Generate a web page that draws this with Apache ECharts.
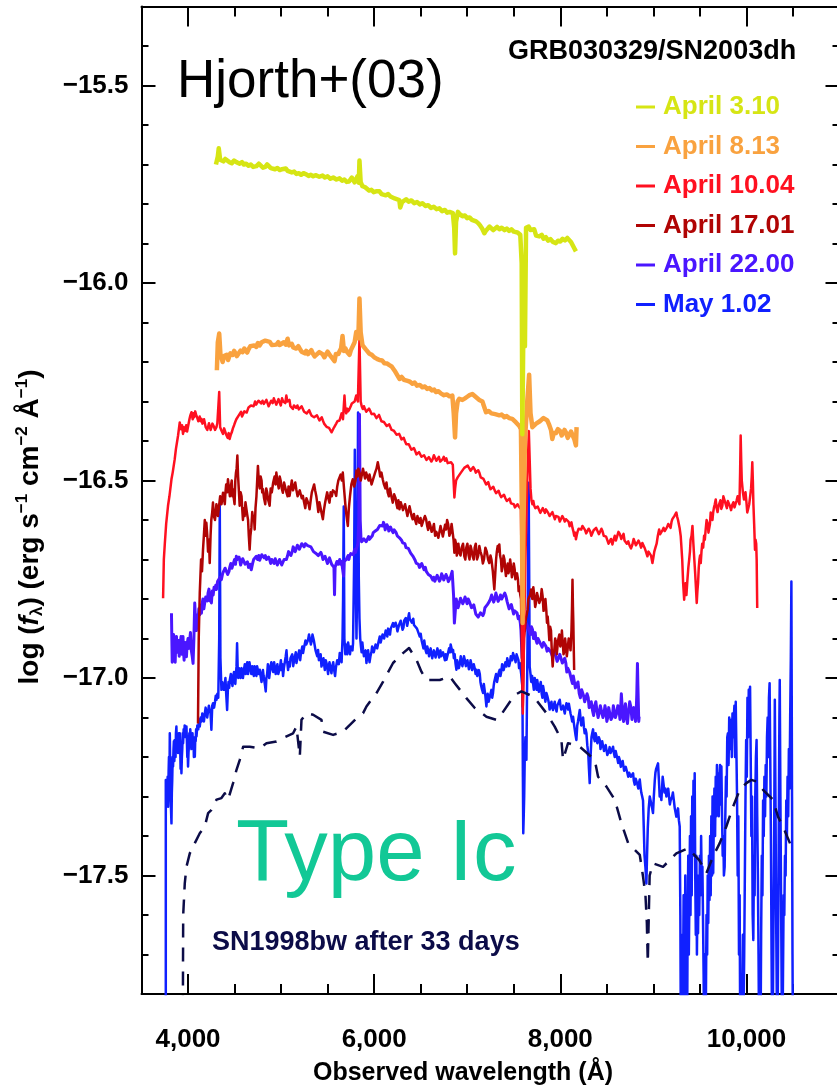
<!DOCTYPE html>
<html>
<head>
<meta charset="utf-8">
<script src="https://cdn.jsdelivr.net/npm/echarts@6/dist/echarts.min.js"></script>
<style>
  html, body { margin: 0; padding: 0; background: #ffffff; }
  #chart { width: 837px; height: 1088px; }
</style>
</head>
<body>
<div id="chart"></div>
<script>
// Spectra of GRB030329 / SN2003dh, log flux density against observed wavelength.

const FONT = '"Liberation Sans", Arial, Helvetica, sans-serif';

const xRange = [3500, 11000];
const yRange = [-17.8, -15.3];

const xMajorTicks = [4000, 6000, 8000, 10000];
const xMinorTicks = [4500, 5000, 5500, 6500, 7000, 7500, 8500, 9000, 9500, 10500];
const yMajorTicks = [-17.5, -17.0, -16.5, -16.0, -15.5];
const yMinorTicks = [-17.7, -17.6, -17.4, -17.3, -17.2, -17.1, -16.9, -16.8, -16.7, -16.6,
  -16.4, -16.3, -16.2, -16.1, -15.9, -15.8, -15.7, -15.6, -15.4];

const seriesNames = ['April 3.10', 'April 8.13', 'April 10.04', 'April 17.01', 'April 22.00', 'May 1.02'];
const seriesColors = ['#d6e514', '#f9a23f', '#ff1020', '#b00404', '#4a16ff', '#1020ff'];
const templateName = 'SN1998bw after 33 days';

// [wavelength (Å), log f_lambda]
const april03 = [[4300,-15.700],[4310,-15.690],[4320,-15.680],[4330,-15.659],[4345,-15.688],[4362,-15.683],[4380,-15.692],[4400,-15.686],[4420,-15.689],[4445,-15.694],[4470,-15.697],[4495,-15.690],[4520,-15.694],[4555,-15.698],[4580,-15.694],[4600,-15.700],[4625,-15.698],[4650,-15.703],[4675,-15.700],[4700,-15.706],[4735,-15.704],[4760,-15.698],[4780,-15.702],[4805,-15.708],[4830,-15.706],[4850,-15.700],[4870,-15.703],[4890,-15.709],[4910,-15.706],[4935,-15.712],[4960,-15.709],[4985,-15.714],[5010,-15.712],[5030,-15.707],[5050,-15.710],[5070,-15.716],[5090,-15.715],[5115,-15.720],[5140,-15.718],[5165,-15.724],[5190,-15.722],[5215,-15.726],[5240,-15.722],[5270,-15.725],[5295,-15.729],[5320,-15.726],[5345,-15.730],[5370,-15.727],[5410,-15.731],[5445,-15.728],[5470,-15.733],[5500,-15.730],[5530,-15.736],[5560,-15.733],[5595,-15.738],[5628,-15.735],[5655,-15.741],[5680,-15.738],[5705,-15.744],[5730,-15.743],[5760,-15.733],[5790,-15.745],[5820,-15.730],[5835,-15.746],[5842,-15.690],[5855,-15.745],[5874,-15.755],[5900,-15.757],[5920,-15.760],[5945,-15.766],[5970,-15.764],[5995,-15.770],[6020,-15.768],[6057,-15.768],[6080,-15.775],[6100,-15.772],[6125,-15.778],[6150,-15.775],[6175,-15.781],[6196,-15.778],[6220,-15.786],[6240,-15.785],[6270,-15.790],[6280,-15.809],[6300,-15.795],[6320,-15.790],[6343,-15.788],[6370,-15.794],[6400,-15.791],[6430,-15.798],[6460,-15.795],[6490,-15.801],[6518,-15.798],[6550,-15.805],[6580,-15.803],[6610,-15.810],[6640,-15.807],[6670,-15.813],[6701,-15.811],[6730,-15.818],[6760,-15.815],[6785,-15.822],[6810,-15.820],[6845,-15.823],[6860,-15.860],[6869,-15.925],[6880,-15.845],[6900,-15.820],[6925,-15.827],[6948,-15.831],[6975,-15.829],[7000,-15.836],[7025,-15.834],[7050,-15.840],[7070,-15.838],[7095,-15.844],[7120,-15.849],[7140,-15.855],[7160,-15.862],[7184,-15.874],[7200,-15.868],[7220,-15.866],[7240,-15.857],[7260,-15.860],[7280,-15.866],[7300,-15.864],[7320,-15.858],[7345,-15.864],[7370,-15.860],[7400,-15.866],[7425,-15.862],[7450,-15.868],[7475,-15.864],[7500,-15.870],[7520,-15.866],[7540,-15.872],[7570,-15.878],[7585,-15.950],[7592,-16.383],[7602,-16.380],[7610,-15.950],[7620,-16.160],[7632,-15.860],[7660,-15.857],[7680,-15.866],[7700,-15.870],[7720,-15.864],[7740,-15.880],[7760,-15.876],[7774,-15.882],[7800,-15.878],[7820,-15.888],[7845,-15.884],[7870,-15.893],[7895,-15.889],[7920,-15.896],[7953,-15.899],[7975,-15.893],[8000,-15.895],[8025,-15.888],[8050,-15.892],[8075,-15.886],[8096,-15.890],[8115,-15.896],[8130,-15.900],[8150,-15.912],[8168,-15.920]];

const april08 = [[4310,-16.221],[4320,-16.150],[4335,-16.128],[4348,-16.180],[4360,-16.190],[4372,-16.200],[4386,-16.185],[4400,-16.190],[4415,-16.182],[4430,-16.195],[4455,-16.178],[4480,-16.182],[4495,-16.172],[4510,-16.176],[4525,-16.185],[4540,-16.180],[4565,-16.171],[4587,-16.175],[4605,-16.166],[4620,-16.170],[4635,-16.176],[4650,-16.168],[4670,-16.160],[4690,-16.165],[4712,-16.158],[4734,-16.162],[4750,-16.152],[4770,-16.158],[4790,-16.150],[4810,-16.152],[4830,-16.146],[4850,-16.150],[4877,-16.149],[4900,-16.157],[4920,-16.152],[4950,-16.156],[4970,-16.150],[4984,-16.157],[5005,-16.162],[5030,-16.150],[5050,-16.156],[5070,-16.141],[5085,-16.158],[5100,-16.160],[5115,-16.154],[5130,-16.163],[5150,-16.158],[5163,-16.166],[5185,-16.160],[5200,-16.166],[5220,-16.174],[5240,-16.170],[5255,-16.178],[5270,-16.172],[5290,-16.180],[5306,-16.175],[5325,-16.170],[5340,-16.178],[5360,-16.186],[5380,-16.182],[5410,-16.175],[5445,-16.180],[5465,-16.188],[5480,-16.183],[5500,-16.174],[5520,-16.178],[5535,-16.186],[5550,-16.182],[5574,-16.198],[5588,-16.180],[5600,-16.175],[5615,-16.180],[5630,-16.172],[5645,-16.165],[5660,-16.134],[5675,-16.172],[5690,-16.165],[5710,-16.175],[5735,-16.182],[5750,-16.170],[5770,-16.160],[5790,-16.150],[5807,-16.124],[5830,-16.140],[5842,-16.039],[5855,-16.125],[5874,-16.157],[5890,-16.162],[5910,-16.168],[5930,-16.172],[5949,-16.179],[5975,-16.182],[6000,-16.188],[6030,-16.192],[6057,-16.195],[6085,-16.196],[6110,-16.203],[6140,-16.204],[6164,-16.208],[6190,-16.212],[6220,-16.222],[6245,-16.232],[6272,-16.243],[6295,-16.238],[6320,-16.245],[6340,-16.240],[6360,-16.248],[6385,-16.250],[6411,-16.255],[6435,-16.252],[6460,-16.260],[6490,-16.258],[6518,-16.264],[6545,-16.262],[6570,-16.268],[6595,-16.266],[6620,-16.272],[6645,-16.270],[6665,-16.276],[6690,-16.274],[6720,-16.280],[6750,-16.284],[6780,-16.282],[6810,-16.287],[6840,-16.285],[6855,-16.330],[6869,-16.391],[6880,-16.330],[6897,-16.300],[6915,-16.293],[6930,-16.288],[6948,-16.296],[6975,-16.292],[7000,-16.288],[7025,-16.284],[7055,-16.281],[7080,-16.286],[7100,-16.290],[7130,-16.296],[7163,-16.300],[7180,-16.312],[7202,-16.327],[7230,-16.324],[7260,-16.330],[7280,-16.326],[7300,-16.332],[7320,-16.330],[7345,-16.335],[7370,-16.333],[7400,-16.340],[7425,-16.337],[7450,-16.342],[7470,-16.340],[7484,-16.344],[7505,-16.348],[7524,-16.353],[7540,-16.350],[7560,-16.362],[7577,-16.370],[7588,-16.600],[7595,-16.861],[7605,-16.600],[7620,-16.400],[7645,-16.300],[7665,-16.232],[7680,-16.330],[7700,-16.365],[7721,-16.365],[7740,-16.356],[7760,-16.360],[7780,-16.350],[7800,-16.352],[7820,-16.342],[7839,-16.345],[7860,-16.348],[7882,-16.360],[7900,-16.372],[7914,-16.395],[7930,-16.380],[7953,-16.380],[7975,-16.370],[8000,-16.375],[8015,-16.386],[8030,-16.382],[8045,-16.372],[8060,-16.378],[8080,-16.392],[8100,-16.390],[8115,-16.376],[8130,-16.380],[8150,-16.395],[8168,-16.411],[8175,-16.365]];

const april10 = [[3732,-16.798],[3740,-16.700],[3750,-16.662],[3765,-16.610],[3785,-16.564],[3800,-16.540],[3822,-16.497],[3835,-16.480],[3857,-16.446],[3870,-16.420],[3893,-16.386],[3911,-16.353],[3925,-16.370],[3936,-16.360],[3946,-16.382],[3955,-16.365],[3965,-16.375],[3980,-16.360],[3990,-16.376],[4000,-16.378],[4015,-16.345],[4025,-16.335],[4037,-16.327],[4050,-16.345],[4058,-16.330],[4065,-16.340],[4077,-16.325],[4090,-16.336],[4100,-16.342],[4110,-16.350],[4125,-16.338],[4135,-16.350],[4144,-16.344],[4155,-16.356],[4165,-16.358],[4172,-16.345],[4180,-16.350],[4190,-16.365],[4197,-16.360],[4207,-16.372],[4215,-16.370],[4225,-16.355],[4235,-16.358],[4243,-16.372],[4251,-16.370],[4262,-16.356],[4275,-16.362],[4290,-16.372],[4305,-16.365],[4315,-16.355],[4325,-16.360],[4335,-16.276],[4345,-16.365],[4360,-16.374],[4376,-16.382],[4388,-16.368],[4400,-16.370],[4412,-16.385],[4425,-16.392],[4437,-16.380],[4447,-16.395],[4458,-16.385],[4470,-16.378],[4482,-16.368],[4495,-16.360],[4507,-16.352],[4519,-16.345],[4532,-16.340],[4545,-16.335],[4557,-16.330],[4570,-16.326],[4580,-16.338],[4590,-16.336],[4605,-16.325],[4620,-16.320],[4630,-16.328],[4640,-16.330],[4650,-16.315],[4662,-16.319],[4676,-16.310],[4690,-16.305],[4705,-16.312],[4720,-16.300],[4732,-16.308],[4745,-16.310],[4757,-16.298],[4769,-16.293],[4785,-16.305],[4800,-16.298],[4815,-16.306],[4830,-16.310],[4842,-16.296],[4855,-16.300],[4866,-16.312],[4877,-16.310],[4893,-16.298],[4910,-16.304],[4922,-16.292],[4935,-16.295],[4948,-16.308],[4960,-16.306],[4972,-16.294],[4984,-16.302],[4997,-16.310],[5010,-16.292],[5022,-16.300],[5035,-16.296],[5045,-16.304],[5056,-16.285],[5068,-16.300],[5080,-16.305],[5090,-16.296],[5100,-16.312],[5114,-16.308],[5127,-16.319],[5138,-16.310],[5150,-16.305],[5162,-16.316],[5175,-16.310],[5190,-16.320],[5205,-16.318],[5220,-16.312],[5234,-16.319],[5247,-16.326],[5260,-16.322],[5275,-16.330],[5290,-16.327],[5302,-16.322],[5315,-16.330],[5328,-16.336],[5341,-16.332],[5355,-16.340],[5370,-16.338],[5385,-16.335],[5400,-16.340],[5412,-16.348],[5425,-16.346],[5437,-16.340],[5449,-16.348],[5462,-16.356],[5475,-16.355],[5488,-16.364],[5500,-16.362],[5515,-16.367],[5530,-16.370],[5543,-16.378],[5556,-16.374],[5568,-16.366],[5580,-16.362],[5592,-16.356],[5605,-16.350],[5617,-16.355],[5628,-16.348],[5640,-16.338],[5650,-16.330],[5665,-16.345],[5681,-16.285],[5690,-16.320],[5700,-16.330],[5710,-16.318],[5720,-16.325],[5735,-16.319],[5748,-16.312],[5760,-16.305],[5775,-16.310],[5790,-16.300],[5807,-16.285],[5825,-16.300],[5842,-16.141],[5855,-16.300],[5866,-16.312],[5878,-16.319],[5890,-16.312],[5900,-16.318],[5915,-16.326],[5930,-16.322],[5945,-16.318],[5960,-16.325],[5972,-16.332],[5985,-16.327],[5998,-16.331],[6010,-16.335],[6025,-16.342],[6040,-16.338],[6052,-16.334],[6065,-16.342],[6078,-16.350],[6092,-16.348],[6105,-16.352],[6120,-16.355],[6135,-16.362],[6150,-16.360],[6162,-16.358],[6175,-16.365],[6188,-16.372],[6200,-16.370],[6212,-16.374],[6225,-16.376],[6240,-16.384],[6255,-16.383],[6268,-16.382],[6280,-16.388],[6294,-16.396],[6307,-16.395],[6318,-16.392],[6330,-16.400],[6345,-16.408],[6360,-16.405],[6372,-16.408],[6385,-16.412],[6400,-16.422],[6414,-16.420],[6427,-16.418],[6440,-16.425],[6455,-16.434],[6470,-16.430],[6482,-16.428],[6495,-16.433],[6508,-16.440],[6522,-16.437],[6536,-16.436],[6550,-16.440],[6562,-16.448],[6575,-16.444],[6588,-16.441],[6600,-16.446],[6615,-16.452],[6629,-16.446],[6642,-16.436],[6655,-16.440],[6668,-16.450],[6680,-16.445],[6695,-16.440],[6710,-16.452],[6722,-16.456],[6736,-16.446],[6748,-16.440],[6760,-16.450],[6775,-16.444],[6790,-16.456],[6808,-16.460],[6826,-16.454],[6845,-16.460],[6862,-16.543],[6870,-16.520],[6880,-16.500],[6897,-16.492],[6915,-16.488],[6932,-16.480],[6950,-16.475],[6968,-16.468],[6985,-16.470],[7005,-16.462],[7023,-16.467],[7036,-16.475],[7050,-16.470],[7065,-16.466],[7080,-16.472],[7092,-16.480],[7105,-16.478],[7118,-16.474],[7130,-16.480],[7145,-16.492],[7160,-16.490],[7175,-16.496],[7190,-16.500],[7203,-16.510],[7215,-16.506],[7226,-16.504],[7237,-16.514],[7250,-16.522],[7265,-16.520],[7280,-16.516],[7295,-16.525],[7310,-16.532],[7325,-16.530],[7338,-16.526],[7350,-16.535],[7365,-16.542],[7380,-16.539],[7395,-16.536],[7410,-16.545],[7425,-16.552],[7440,-16.550],[7455,-16.546],[7470,-16.558],[7485,-16.554],[7500,-16.560],[7512,-16.568],[7524,-16.564],[7540,-16.560],[7555,-16.566],[7566,-16.562],[7577,-16.573],[7590,-16.850],[7597,-17.090],[7610,-16.900],[7625,-16.700],[7645,-16.500],[7662,-16.375],[7680,-16.520],[7690,-16.550],[7700,-16.560],[7710,-16.552],[7720,-16.564],[7732,-16.570],[7745,-16.575],[7757,-16.566],[7770,-16.570],[7785,-16.582],[7800,-16.578],[7812,-16.570],[7825,-16.574],[7835,-16.582],[7846,-16.573],[7858,-16.578],[7870,-16.582],[7885,-16.590],[7900,-16.586],[7915,-16.580],[7930,-16.590],[7942,-16.598],[7953,-16.590],[7967,-16.585],[7980,-16.592],[7995,-16.604],[8010,-16.600],[8022,-16.590],[8035,-16.596],[8048,-16.604],[8060,-16.598],[8075,-16.596],[8090,-16.605],[8100,-16.616],[8110,-16.612],[8120,-16.606],[8131,-16.620],[8140,-16.628],[8150,-16.640],[8160,-16.632],[8168,-16.649],[8177,-16.638],[8185,-16.630],[8197,-16.622],[8210,-16.618],[8225,-16.624],[8238,-16.615],[8252,-16.620],[8265,-16.625],[8278,-16.634],[8290,-16.632],[8305,-16.622],[8320,-16.628],[8333,-16.640],[8346,-16.637],[8358,-16.626],[8370,-16.630],[8385,-16.620],[8400,-16.625],[8415,-16.636],[8430,-16.632],[8442,-16.622],[8453,-16.628],[8467,-16.640],[8480,-16.635],[8492,-16.642],[8505,-16.645],[8518,-16.660],[8530,-16.655],[8545,-16.648],[8560,-16.662],[8572,-16.650],[8585,-16.640],[8597,-16.652],[8610,-16.648],[8625,-16.630],[8640,-16.636],[8655,-16.648],[8668,-16.641],[8680,-16.635],[8690,-16.652],[8702,-16.648],[8715,-16.660],[8730,-16.654],[8745,-16.665],[8760,-16.672],[8775,-16.662],[8788,-16.648],[8800,-16.650],[8812,-16.664],[8825,-16.668],[8840,-16.652],[8855,-16.660],[8868,-16.670],[8882,-16.658],[8893,-16.662],[8905,-16.670],[8920,-16.680],[8936,-16.692],[8948,-16.680],[8960,-16.675],[8975,-16.690],[8990,-16.709],[9000,-16.695],[9010,-16.680],[9022,-16.670],[9035,-16.660],[9048,-16.640],[9062,-16.624],[9073,-16.636],[9085,-16.640],[9097,-16.626],[9110,-16.620],[9122,-16.628],[9133,-16.632],[9147,-16.618],[9160,-16.610],[9172,-16.606],[9185,-16.620],[9195,-16.605],[9204,-16.598],[9215,-16.594],[9225,-16.590],[9236,-16.585],[9247,-16.581],[9256,-16.592],[9265,-16.600],[9282,-16.620],[9294,-16.641],[9310,-16.700],[9320,-16.760],[9331,-16.802],[9338,-16.770],[9345,-16.760],[9355,-16.790],[9366,-16.751],[9376,-16.720],[9385,-16.700],[9393,-16.680],[9400,-16.650],[9410,-16.640],[9420,-16.615],[9430,-16.660],[9440,-16.700],[9448,-16.730],[9455,-16.760],[9466,-16.810],[9473,-16.780],[9480,-16.760],[9488,-16.720],[9495,-16.700],[9502,-16.690],[9509,-16.709],[9517,-16.680],[9525,-16.660],[9535,-16.670],[9545,-16.640],[9553,-16.650],[9562,-16.624],[9572,-16.600],[9585,-16.610],[9592,-16.632],[9600,-16.630],[9608,-16.610],[9616,-16.581],[9625,-16.590],[9635,-16.600],[9642,-16.582],[9650,-16.570],[9660,-16.560],[9670,-16.548],[9680,-16.570],[9690,-16.580],[9700,-16.565],[9710,-16.560],[9720,-16.550],[9730,-16.572],[9741,-16.564],[9752,-16.540],[9765,-16.545],[9777,-16.560],[9790,-16.570],[9800,-16.552],[9812,-16.548],[9823,-16.565],[9835,-16.575],[9847,-16.562],[9860,-16.555],[9872,-16.568],[9884,-16.573],[9895,-16.550],[9905,-16.540],[9915,-16.552],[9925,-16.560],[9932,-16.480],[9938,-16.386],[9944,-16.450],[9950,-16.500],[9962,-16.530],[9974,-16.548],[9982,-16.540],[9990,-16.530],[10000,-16.555],[10009,-16.581],[10020,-16.570],[10030,-16.560],[10040,-16.540],[10050,-16.520],[10057,-16.490],[10063,-16.454],[10069,-16.500],[10075,-16.560],[10083,-16.610],[10092,-16.675],[10098,-16.650],[10105,-16.660],[10110,-16.700],[10116,-16.823]];

const april17 = [[4107,-17.115],[4115,-16.900],[4126,-16.785],[4140,-16.700],[4150,-16.730],[4161,-16.675],[4170,-16.640],[4180,-16.600],[4190,-16.640],[4197,-16.607],[4207,-16.640],[4215,-16.680],[4225,-16.650],[4233,-16.709],[4242,-16.640],[4250,-16.600],[4260,-16.580],[4268,-16.556],[4278,-16.590],[4290,-16.600],[4305,-16.560],[4322,-16.590],[4333,-16.565],[4345,-16.540],[4360,-16.560],[4376,-16.531],[4386,-16.545],[4395,-16.560],[4402,-16.530],[4410,-16.510],[4420,-16.530],[4429,-16.497],[4440,-16.520],[4450,-16.540],[4460,-16.515],[4470,-16.500],[4477,-16.540],[4483,-16.522],[4492,-16.545],[4500,-16.560],[4508,-16.500],[4515,-16.480],[4522,-16.470],[4530,-16.437],[4538,-16.490],[4545,-16.520],[4555,-16.564],[4565,-16.530],[4575,-16.540],[4582,-16.570],[4590,-16.600],[4600,-16.570],[4608,-16.590],[4617,-16.555],[4625,-16.560],[4635,-16.585],[4645,-16.600],[4653,-16.640],[4662,-16.675],[4670,-16.640],[4680,-16.620],[4690,-16.580],[4700,-16.600],[4708,-16.590],[4716,-16.624],[4725,-16.570],[4735,-16.540],[4743,-16.500],[4751,-16.463],[4760,-16.500],[4770,-16.520],[4780,-16.490],[4790,-16.500],[4797,-16.530],[4805,-16.522],[4817,-16.545],[4830,-16.560],[4840,-16.520],[4850,-16.530],[4862,-16.550],[4877,-16.564],[4888,-16.520],[4900,-16.530],[4915,-16.505],[4930,-16.490],[4940,-16.510],[4949,-16.480],[4962,-16.505],[4975,-16.520],[4985,-16.490],[4995,-16.500],[5007,-16.520],[5019,-16.531],[5032,-16.505],[5045,-16.510],[5057,-16.530],[5070,-16.540],[5080,-16.515],[5091,-16.539],[5103,-16.520],[5115,-16.500],[5128,-16.525],[5140,-16.530],[5152,-16.505],[5163,-16.522],[5177,-16.540],[5190,-16.545],[5200,-16.525],[5210,-16.520],[5222,-16.545],[5234,-16.539],[5247,-16.555],[5260,-16.570],[5272,-16.545],[5285,-16.550],[5296,-16.560],[5306,-16.573],[5318,-16.550],[5330,-16.530],[5342,-16.525],[5355,-16.510],[5366,-16.525],[5378,-16.539],[5390,-16.560],[5400,-16.580],[5412,-16.555],[5425,-16.570],[5437,-16.585],[5449,-16.598],[5460,-16.575],[5470,-16.560],[5482,-16.545],[5495,-16.530],[5507,-16.545],[5520,-16.556],[5532,-16.530],[5545,-16.540],[5557,-16.525],[5570,-16.520],[5580,-16.530],[5592,-16.539],[5603,-16.515],[5615,-16.500],[5627,-16.495],[5640,-16.485],[5652,-16.500],[5663,-16.480],[5676,-16.520],[5690,-16.560],[5703,-16.590],[5717,-16.615],[5728,-16.570],[5740,-16.540],[5755,-16.510],[5770,-16.497],[5785,-16.515],[5800,-16.500],[5810,-16.475],[5820,-16.490],[5830,-16.470],[5842,-16.480],[5856,-16.500],[5870,-16.495],[5880,-16.470],[5890,-16.475],[5902,-16.495],[5914,-16.480],[5927,-16.490],[5940,-16.500],[5950,-16.485],[5960,-16.490],[5972,-16.510],[5985,-16.505],[5997,-16.490],[6010,-16.480],[6025,-16.470],[6039,-16.454],[6052,-16.470],[6065,-16.490],[6078,-16.480],[6092,-16.497],[6105,-16.510],[6120,-16.520],[6132,-16.505],[6146,-16.531],[6158,-16.540],[6170,-16.520],[6185,-16.540],[6200,-16.556],[6215,-16.535],[6230,-16.545],[6240,-16.560],[6250,-16.570],[6260,-16.550],[6272,-16.573],[6286,-16.555],[6300,-16.560],[6310,-16.575],[6320,-16.580],[6332,-16.560],[6343,-16.573],[6357,-16.590],[6370,-16.590],[6380,-16.565],[6390,-16.570],[6402,-16.590],[6414,-16.598],[6427,-16.585],[6440,-16.600],[6452,-16.610],[6465,-16.590],[6475,-16.600],[6486,-16.607],[6498,-16.595],[6510,-16.615],[6520,-16.620],[6530,-16.600],[6545,-16.590],[6558,-16.598],[6570,-16.615],[6580,-16.625],[6592,-16.605],[6605,-16.615],[6617,-16.630],[6629,-16.624],[6642,-16.610],[6655,-16.640],[6668,-16.630],[6680,-16.625],[6690,-16.645],[6701,-16.641],[6713,-16.615],[6725,-16.620],[6738,-16.642],[6750,-16.638],[6762,-16.612],[6773,-16.624],[6784,-16.600],[6795,-16.610],[6808,-16.640],[6820,-16.632],[6832,-16.610],[6844,-16.615],[6853,-16.650],[6862,-16.683],[6870,-16.650],[6880,-16.660],[6888,-16.690],[6897,-16.675],[6905,-16.660],[6915,-16.683],[6928,-16.690],[6940,-16.670],[6955,-16.660],[6969,-16.692],[6980,-16.700],[6990,-16.670],[7002,-16.660],[7015,-16.690],[7025,-16.700],[7035,-16.665],[7046,-16.675],[7058,-16.692],[7070,-16.700],[7080,-16.670],[7092,-16.660],[7105,-16.700],[7118,-16.690],[7130,-16.666],[7142,-16.680],[7155,-16.690],[7168,-16.710],[7180,-16.700],[7195,-16.670],[7210,-16.680],[7224,-16.700],[7237,-16.709],[7250,-16.690],[7260,-16.700],[7275,-16.730],[7291,-16.776],[7300,-16.740],[7310,-16.700],[7318,-16.680],[7327,-16.666],[7336,-16.680],[7345,-16.662],[7353,-16.690],[7362,-16.700],[7371,-16.730],[7380,-16.717],[7390,-16.690],[7400,-16.700],[7408,-16.725],[7416,-16.742],[7426,-16.720],[7435,-16.710],[7443,-16.735],[7452,-16.726],[7461,-16.700],[7470,-16.717],[7480,-16.745],[7490,-16.735],[7500,-16.710],[7510,-16.725],[7517,-16.750],[7524,-16.742],[7535,-16.735],[7545,-16.750],[7552,-16.780],[7560,-16.768],[7570,-16.790],[7578,-16.800],[7590,-16.980],[7597,-17.073],[7610,-16.900],[7630,-16.850],[7649,-16.827],[7657,-16.800],[7665,-16.800],[7676,-16.790],[7686,-16.776],[7693,-16.790],[7700,-16.800],[7710,-16.770],[7720,-16.790],[7730,-16.820],[7739,-16.810],[7750,-16.785],[7760,-16.780],[7775,-16.810],[7790,-16.800],[7800,-16.775],[7810,-16.793],[7820,-16.830],[7830,-16.820],[7840,-16.800],[7850,-16.830],[7857,-16.860],[7864,-16.844],[7873,-16.870],[7882,-16.904],[7891,-16.870],[7900,-16.880],[7910,-16.940],[7918,-16.971],[7926,-16.940],[7935,-16.930],[7945,-16.900],[7955,-16.910],[7962,-16.940],[7970,-16.920],[7980,-16.900],[7990,-16.890],[8000,-16.920],[8010,-16.910],[8017,-16.880],[8024,-16.904],[8035,-16.940],[8045,-16.930],[8052,-16.900],[8060,-16.920],[8070,-16.945],[8078,-16.929],[8090,-16.900],[8100,-16.910],[8110,-16.930],[8120,-16.880],[8126,-16.820],[8131,-16.751],[8136,-16.820],[8140,-16.860],[8145,-16.930],[8149,-16.980]];

const april22 = [[3822,-16.836],[3826,-16.900],[3830,-16.960],[3835,-16.915],[3839,-16.937],[3844,-16.890],[3850,-16.900],[3856,-16.945],[3862,-16.960],[3868,-16.910],[3876,-16.895],[3883,-16.935],[3890,-16.940],[3895,-16.915],[3900,-16.905],[3905,-16.945],[3911,-16.950],[3918,-16.910],[3925,-16.895],[3930,-16.930],[3935,-16.940],[3941,-16.905],[3946,-16.895],[3952,-16.935],[3958,-16.955],[3964,-16.920],[3970,-16.910],[3977,-16.935],[3983,-16.946],[3990,-16.915],[4000,-16.900],[4008,-16.925],[4018,-16.904],[4026,-16.885],[4035,-16.930],[4045,-16.945],[4054,-16.963],[4063,-16.900],[4072,-16.810],[4080,-16.850],[4090,-16.880],[4098,-16.840],[4107,-16.861],[4116,-16.825],[4125,-16.840],[4134,-16.815],[4144,-16.836],[4152,-16.810],[4160,-16.800],[4170,-16.825],[4179,-16.810],[4190,-16.795],[4200,-16.790],[4208,-16.805],[4215,-16.785],[4225,-16.775],[4235,-16.805],[4243,-16.790],[4251,-16.810],[4260,-16.780],[4270,-16.790],[4280,-16.770],[4290,-16.776],[4298,-16.765],[4305,-16.776],[4318,-16.755],[4330,-16.760],[4345,-16.745],[4358,-16.751],[4372,-16.735],[4385,-16.740],[4398,-16.722],[4412,-16.726],[4426,-16.738],[4440,-16.730],[4450,-16.718],[4460,-16.710],[4472,-16.722],[4483,-16.717],[4492,-16.706],[4500,-16.700],[4510,-16.712],[4519,-16.692],[4530,-16.700],[4540,-16.705],[4548,-16.694],[4555,-16.700],[4565,-16.714],[4573,-16.709],[4587,-16.698],[4600,-16.700],[4613,-16.712],[4627,-16.717],[4638,-16.706],[4650,-16.720],[4665,-16.712],[4680,-16.726],[4692,-16.712],[4705,-16.700],[4720,-16.696],[4734,-16.692],[4747,-16.700],[4760,-16.690],[4770,-16.702],[4780,-16.700],[4792,-16.688],[4805,-16.683],[4818,-16.696],[4830,-16.690],[4843,-16.700],[4855,-16.705],[4866,-16.694],[4877,-16.700],[4888,-16.710],[4900,-16.700],[4912,-16.704],[4925,-16.710],[4937,-16.698],[4949,-16.700],[4960,-16.714],[4970,-16.712],[4983,-16.700],[4995,-16.705],[5007,-16.714],[5019,-16.709],[5032,-16.700],[5045,-16.695],[5057,-16.700],[5070,-16.690],[5080,-16.680],[5091,-16.683],[5105,-16.690],[5120,-16.680],[5130,-16.668],[5140,-16.672],[5152,-16.680],[5163,-16.675],[5175,-16.664],[5185,-16.665],[5197,-16.674],[5210,-16.670],[5222,-16.660],[5234,-16.662],[5247,-16.668],[5260,-16.660],[5272,-16.656],[5285,-16.665],[5296,-16.670],[5306,-16.662],[5320,-16.668],[5335,-16.670],[5348,-16.680],[5360,-16.675],[5372,-16.684],[5385,-16.680],[5400,-16.690],[5413,-16.692],[5427,-16.682],[5440,-16.690],[5450,-16.700],[5460,-16.700],[5472,-16.692],[5485,-16.700],[5498,-16.710],[5510,-16.705],[5520,-16.696],[5530,-16.698],[5543,-16.712],[5556,-16.709],[5568,-16.720],[5574,-16.789],[5580,-16.720],[5590,-16.712],[5600,-16.705],[5615,-16.712],[5630,-16.700],[5640,-16.712],[5650,-16.705],[5660,-16.710],[5671,-16.742],[5678,-16.705],[5690,-16.708],[5700,-16.700],[5710,-16.695],[5720,-16.690],[5728,-16.700],[5735,-16.692],[5748,-16.685],[5760,-16.680],[5775,-16.688],[5790,-16.675],[5800,-16.682],[5807,-16.675],[5816,-16.668],[5825,-16.660],[5835,-16.600],[5842,-16.332],[5850,-16.600],[5858,-16.645],[5865,-16.655],[5878,-16.658],[5890,-16.648],[5900,-16.650],[5915,-16.655],[5930,-16.650],[5940,-16.642],[5949,-16.649],[5965,-16.645],[5980,-16.640],[5990,-16.632],[6000,-16.635],[6012,-16.628],[6022,-16.632],[6035,-16.624],[6050,-16.625],[6060,-16.614],[6070,-16.618],[6080,-16.610],[6092,-16.615],[6100,-16.606],[6110,-16.612],[6118,-16.625],[6125,-16.622],[6137,-16.612],[6150,-16.618],[6157,-16.628],[6164,-16.624],[6176,-16.618],[6190,-16.626],[6203,-16.632],[6215,-16.625],[6225,-16.630],[6236,-16.632],[6248,-16.640],[6260,-16.636],[6272,-16.645],[6285,-16.640],[6296,-16.652],[6307,-16.658],[6318,-16.654],[6330,-16.660],[6342,-16.670],[6355,-16.665],[6367,-16.672],[6379,-16.675],[6392,-16.684],[6405,-16.685],[6418,-16.692],[6430,-16.690],[6440,-16.702],[6451,-16.709],[6463,-16.706],[6475,-16.712],[6487,-16.720],[6500,-16.715],[6511,-16.710],[6522,-16.717],[6536,-16.726],[6550,-16.720],[6560,-16.730],[6570,-16.728],[6582,-16.738],[6594,-16.734],[6607,-16.742],[6620,-16.740],[6630,-16.752],[6640,-16.745],[6652,-16.755],[6665,-16.751],[6677,-16.740],[6690,-16.745],[6702,-16.755],[6715,-16.748],[6725,-16.736],[6736,-16.742],[6748,-16.752],[6760,-16.748],[6772,-16.738],[6785,-16.745],[6797,-16.756],[6808,-16.751],[6820,-16.745],[6830,-16.740],[6838,-16.730],[6844,-16.734],[6853,-16.790],[6862,-16.861],[6875,-16.820],[6882,-16.800],[6890,-16.810],[6902,-16.822],[6915,-16.810],[6928,-16.798],[6940,-16.800],[6952,-16.812],[6965,-16.805],[6976,-16.795],[6987,-16.802],[6998,-16.812],[7010,-16.800],[7022,-16.806],[7035,-16.810],[7046,-16.822],[7058,-16.819],[7070,-16.815],[7080,-16.825],[7092,-16.838],[7105,-16.835],[7118,-16.846],[7130,-16.844],[7142,-16.835],[7155,-16.830],[7168,-16.842],[7180,-16.835],[7190,-16.822],[7202,-16.827],[7214,-16.815],[7225,-16.810],[7238,-16.806],[7250,-16.800],[7262,-16.790],[7273,-16.793],[7284,-16.808],[7295,-16.800],[7308,-16.785],[7320,-16.790],[7332,-16.806],[7345,-16.800],[7357,-16.790],[7370,-16.800],[7380,-16.805],[7390,-16.795],[7403,-16.785],[7416,-16.793],[7428,-16.806],[7440,-16.810],[7450,-16.825],[7460,-16.820],[7474,-16.814],[7487,-16.827],[7498,-16.838],[7510,-16.830],[7522,-16.826],[7535,-16.835],[7548,-16.850],[7560,-16.844],[7570,-16.860],[7577,-16.878],[7590,-16.950],[7600,-16.900],[7610,-16.870],[7620,-16.880],[7635,-16.862],[7650,-16.870],[7665,-16.880],[7680,-16.890],[7690,-16.870],[7702,-16.878],[7712,-16.900],[7720,-16.895],[7730,-16.885],[7739,-16.904],[7750,-16.912],[7760,-16.900],[7775,-16.895],[7790,-16.915],[7805,-16.922],[7820,-16.910],[7833,-16.908],[7846,-16.920],[7858,-16.932],[7870,-16.925],[7885,-16.920],[7900,-16.935],[7915,-16.945],[7930,-16.940],[7942,-16.935],[7953,-16.946],[7966,-16.958],[7980,-16.950],[7995,-16.940],[8010,-16.945],[8022,-16.962],[8035,-16.960],[8048,-16.950],[8060,-16.963],[8070,-16.985],[8080,-16.975],[8090,-16.970],[8100,-16.985],[8115,-17.000],[8131,-17.014],[8140,-16.995],[8150,-17.000],[8162,-17.025],[8175,-17.020],[8190,-17.010],[8203,-17.039],[8216,-17.050],[8230,-17.030],[8240,-17.025],[8250,-17.045],[8262,-17.060],[8275,-17.056],[8288,-17.040],[8300,-17.050],[8310,-17.075],[8320,-17.070],[8333,-17.060],[8346,-17.082],[8358,-17.095],[8370,-17.070],[8382,-17.060],[8395,-17.085],[8406,-17.100],[8417,-17.090],[8430,-17.070],[8445,-17.075],[8458,-17.100],[8470,-17.090],[8480,-17.070],[8489,-17.082],[8500,-17.110],[8510,-17.100],[8520,-17.075],[8530,-17.080],[8545,-17.105],[8560,-17.098],[8570,-17.070],[8580,-17.075],[8592,-17.100],[8605,-17.090],[8618,-17.070],[8632,-17.082],[8641,-17.105],[8650,-17.070],[8656,-17.040],[8661,-17.059],[8670,-17.095],[8680,-17.110],[8690,-17.080],[8700,-17.065],[8710,-17.100],[8722,-17.115],[8735,-17.080],[8746,-17.060],[8758,-17.073],[8770,-17.105],[8780,-17.100],[8790,-17.075],[8800,-17.085],[8808,-17.110],[8815,-17.090],[8822,-17.040],[8829,-16.963],[8834,-17.020],[8838,-17.060],[8843,-17.110],[8847,-17.098]];

const may01 = [[3761,-17.950],[3761,-17.258],[3768,-17.320],[3775,-17.300],[3781,-17.250],[3786,-17.326],[3791,-17.240],[3795,-17.200],[3800,-17.280],[3804,-17.140],[3808,-17.210],[3812,-17.300],[3817,-17.330],[3822,-17.368],[3826,-17.290],[3830,-17.260],[3835,-17.200],[3839,-17.224],[3844,-17.180],[3848,-17.160],[3853,-17.210],[3857,-17.157],[3862,-17.180],[3866,-17.200],[3870,-17.140],[3875,-17.123],[3880,-17.170],[3884,-17.180],[3889,-17.150],[3893,-17.190],[3898,-17.160],[3902,-17.140],[3907,-17.170],[3911,-17.140],[3916,-17.180],[3920,-17.230],[3925,-17.200],[3929,-17.241],[3934,-17.200],[3938,-17.180],[3943,-17.140],[3947,-17.165],[3953,-17.130],[3958,-17.150],[3964,-17.120],[3970,-17.130],[3977,-17.150],[3983,-17.123],[3988,-17.160],[3992,-17.200],[3996,-17.180],[4000,-17.224],[4005,-17.190],[4010,-17.170],[4014,-17.140],[4018,-17.165],[4024,-17.130],[4030,-17.150],[4036,-17.180],[4042,-17.170],[4048,-17.140],[4054,-17.174],[4058,-17.150],[4063,-17.200],[4068,-17.170],[4073,-17.199],[4078,-17.150],[4082,-17.160],[4087,-17.130],[4091,-17.148],[4100,-17.120],[4110,-17.130],[4118,-17.105],[4126,-17.123],[4136,-17.100],[4145,-17.110],[4153,-17.090],[4162,-17.098],[4171,-17.110],[4180,-17.090],[4189,-17.075],[4198,-17.089],[4206,-17.100],[4215,-17.085],[4224,-17.070],[4233,-17.081],[4242,-17.090],[4251,-17.131],[4260,-17.070],[4269,-17.064],[4280,-17.075],[4290,-17.060],[4298,-17.045],[4306,-17.055],[4315,-17.040],[4325,-17.050],[4335,-16.900],[4341,-16.561],[4348,-16.950],[4359,-17.030],[4367,-17.010],[4375,-17.020],[4385,-17.030],[4395,-17.013],[4402,-17.000],[4410,-17.040],[4420,-17.081],[4428,-17.030],[4435,-17.010],[4442,-17.025],[4449,-17.005],[4460,-16.990],[4470,-17.010],[4478,-17.020],[4485,-16.995],[4494,-16.985],[4502,-17.005],[4508,-17.015],[4515,-16.990],[4521,-16.970],[4527,-16.912],[4533,-16.970],[4540,-17.000],[4548,-16.975],[4556,-16.988],[4565,-17.000],[4575,-16.975],[4583,-16.990],[4590,-17.000],[4600,-16.980],[4610,-16.965],[4620,-16.990],[4628,-16.971],[4636,-16.960],[4645,-16.990],[4652,-16.975],[4660,-16.960],[4670,-16.975],[4680,-16.990],[4690,-16.970],[4699,-16.988],[4707,-16.995],[4715,-16.970],[4725,-16.985],[4735,-16.995],[4742,-16.970],[4750,-16.975],[4760,-16.990],[4771,-16.979],[4780,-16.995],[4790,-17.010],[4798,-16.990],[4805,-16.980],[4812,-16.995],[4820,-17.000],[4828,-17.020],[4835,-17.034],[4842,-17.000],[4850,-16.990],[4858,-16.965],[4865,-16.975],[4872,-17.000],[4878,-16.988],[4887,-16.970],[4895,-16.960],[4905,-16.975],[4915,-16.985],[4925,-16.960],[4935,-16.975],[4942,-16.990],[4950,-16.979],[4960,-16.965],[4970,-16.990],[4980,-16.980],[4990,-16.970],[4998,-16.955],[5005,-16.980],[5013,-16.965],[5021,-16.995],[5030,-16.975],[5040,-16.960],[5050,-16.945],[5058,-16.930],[5066,-16.960],[5075,-16.980],[5084,-16.960],[5093,-16.971],[5101,-16.950],[5110,-16.955],[5120,-16.940],[5130,-16.970],[5140,-16.955],[5150,-16.950],[5158,-16.935],[5165,-16.962],[5175,-16.950],[5185,-16.945],[5195,-16.930],[5205,-16.955],[5212,-16.940],[5220,-16.930],[5228,-16.920],[5236,-16.937],[5245,-16.925],[5255,-16.920],[5262,-16.905],[5270,-16.915],[5280,-16.910],[5290,-16.903],[5300,-16.890],[5310,-16.895],[5320,-16.915],[5330,-16.905],[5337,-16.890],[5344,-16.895],[5352,-16.905],[5360,-16.910],[5370,-16.930],[5380,-16.925],[5388,-16.945],[5397,-16.929],[5406,-16.955],[5415,-16.950],[5425,-16.940],[5434,-16.971],[5445,-16.960],[5455,-16.950],[5462,-16.965],[5470,-16.980],[5480,-16.955],[5488,-16.962],[5497,-16.975],[5505,-16.990],[5512,-16.970],[5520,-16.960],[5530,-16.975],[5541,-16.988],[5550,-16.970],[5560,-16.960],[5570,-16.980],[5580,-16.995],[5588,-16.975],[5595,-16.971],[5603,-16.955],[5610,-16.950],[5620,-16.965],[5630,-16.937],[5640,-16.950],[5650,-16.960],[5660,-16.900],[5666,-16.800],[5673,-16.566],[5680,-16.900],[5690,-16.940],[5696,-16.915],[5702,-16.929],[5710,-16.940],[5720,-16.910],[5730,-16.925],[5740,-16.940],[5750,-16.920],[5760,-16.915],[5767,-16.930],[5773,-16.912],[5785,-16.700],[5792,-16.422],[5800,-16.700],[5810,-16.900],[5820,-16.700],[5827,-16.328],[5835,-16.750],[5842,-16.850],[5850,-16.900],[5858,-16.920],[5865,-16.935],[5873,-16.910],[5881,-16.929],[5890,-16.945],[5900,-16.950],[5908,-16.930],[5917,-16.962],[5925,-16.945],[5935,-16.930],[5942,-16.945],[5950,-16.960],[5960,-16.945],[5970,-16.935],[5978,-16.920],[5988,-16.920],[5996,-16.935],[6005,-16.930],[6015,-16.915],[6025,-16.910],[6032,-16.925],[6040,-16.920],[6050,-16.905],[6060,-16.895],[6070,-16.910],[6080,-16.905],[6090,-16.890],[6100,-16.885],[6107,-16.900],[6115,-16.900],[6124,-16.880],[6132,-16.886],[6141,-16.895],[6150,-16.875],[6160,-16.882],[6170,-16.890],[6178,-16.875],[6185,-16.870],[6195,-16.880],[6203,-16.861],[6212,-16.870],[6220,-16.875],[6230,-16.860],[6240,-16.868],[6250,-16.882],[6260,-16.880],[6268,-16.865],[6275,-16.870],[6285,-16.855],[6295,-16.860],[6305,-16.878],[6315,-16.872],[6322,-16.855],[6330,-16.860],[6340,-16.848],[6347,-16.853],[6354,-16.868],[6360,-16.862],[6368,-16.845],[6375,-16.836],[6382,-16.850],[6390,-16.855],[6398,-16.845],[6405,-16.860],[6412,-16.858],[6420,-16.850],[6428,-16.866],[6436,-16.861],[6448,-16.868],[6460,-16.875],[6475,-16.885],[6490,-16.895],[6500,-16.888],[6510,-16.905],[6520,-16.915],[6530,-16.925],[6538,-16.905],[6545,-16.910],[6553,-16.930],[6562,-16.937],[6570,-16.920],[6580,-16.930],[6590,-16.945],[6600,-16.945],[6607,-16.925],[6615,-16.930],[6624,-16.950],[6633,-16.946],[6642,-16.930],[6650,-16.925],[6660,-16.948],[6670,-16.945],[6680,-16.925],[6690,-16.930],[6698,-16.948],[6705,-16.937],[6712,-16.930],[6720,-16.945],[6730,-16.950],[6740,-16.935],[6750,-16.945],[6760,-16.955],[6768,-16.940],[6777,-16.954],[6786,-16.945],[6795,-16.940],[6805,-16.925],[6815,-16.935],[6822,-16.915],[6830,-16.920],[6840,-16.935],[6848,-16.929],[6856,-16.950],[6865,-16.940],[6875,-16.965],[6884,-16.979],[6892,-16.955],[6900,-16.960],[6910,-16.975],[6920,-16.965],[6930,-16.945],[6940,-16.950],[6948,-16.970],[6955,-16.962],[6965,-16.945],[6975,-16.955],[6985,-16.970],[6995,-16.975],[7002,-16.955],[7010,-16.960],[7018,-16.978],[7027,-16.971],[7036,-16.955],[7045,-16.965],[7052,-16.980],[7060,-16.985],[7070,-16.965],[7080,-16.975],[7090,-16.990],[7099,-16.979],[7108,-16.995],[7115,-17.000],[7125,-16.980],[7135,-16.990],[7142,-17.010],[7150,-17.020],[7160,-17.030],[7170,-17.038],[7178,-17.015],[7185,-17.020],[7195,-17.045],[7206,-17.072],[7213,-17.050],[7220,-17.040],[7230,-17.060],[7240,-17.055],[7250,-17.040],[7260,-17.030],[7268,-17.050],[7277,-17.038],[7284,-17.020],[7290,-17.010],[7300,-17.000],[7310,-16.990],[7320,-17.010],[7331,-17.005],[7340,-16.985],[7349,-16.979],[7357,-16.995],[7365,-16.985],[7375,-16.965],[7385,-16.960],[7392,-16.980],[7400,-16.975],[7410,-16.960],[7421,-16.971],[7430,-16.950],[7440,-16.955],[7450,-16.970],[7460,-16.960],[7468,-16.945],[7475,-16.940],[7483,-16.955],[7492,-16.937],[7500,-16.935],[7510,-16.950],[7520,-16.960],[7530,-16.940],[7540,-16.945],[7550,-16.955],[7557,-16.975],[7564,-16.962],[7572,-16.975],[7580,-16.990],[7587,-17.010],[7593,-17.022],[7598,-17.250],[7602,-17.393],[7607,-17.350],[7612,-17.300],[7618,-17.200],[7625,-17.150],[7630,-17.180],[7636,-17.207],[7642,-17.050],[7648,-16.900],[7654,-16.700],[7660,-16.506],[7666,-16.750],[7671,-16.971],[7680,-16.990],[7688,-17.010],[7697,-16.995],[7707,-17.013],[7716,-17.030],[7725,-17.000],[7735,-17.015],[7745,-17.030],[7752,-17.005],[7760,-17.010],[7770,-17.035],[7779,-17.022],[7790,-17.010],[7800,-17.040],[7808,-17.050],[7815,-17.020],[7822,-17.030],[7830,-17.045],[7840,-17.060],[7851,-17.038],[7860,-17.045],[7870,-17.055],[7878,-17.065],[7885,-17.080],[7895,-17.070],[7905,-17.060],[7912,-17.075],[7922,-17.081],[7930,-17.070],[7940,-17.060],[7950,-17.075],[7960,-17.085],[7968,-17.070],[7975,-17.065],[7985,-17.075],[7994,-17.055],[8002,-17.070],[8010,-17.080],[8020,-17.085],[8030,-17.070],[8040,-17.075],[8048,-17.090],[8057,-17.075],[8066,-17.064],[8075,-17.070],[8085,-17.080],[8092,-17.065],[8100,-17.070],[8110,-17.090],[8120,-17.100],[8128,-17.110],[8137,-17.098],[8146,-17.115],[8155,-17.130],[8164,-17.145],[8173,-17.157],[8182,-17.120],[8190,-17.110],[8200,-17.095],[8209,-17.081],[8217,-17.100],[8225,-17.120],[8235,-17.110],[8245,-17.100],[8254,-17.125],[8262,-17.140],[8272,-17.130],[8281,-17.140],[8290,-17.170],[8300,-17.190],[8308,-17.230],[8316,-17.266],[8325,-17.200],[8335,-17.150],[8343,-17.140],[8352,-17.130],[8360,-17.150],[8370,-17.160],[8380,-17.140],[8390,-17.150],[8398,-17.165],[8405,-17.170],[8414,-17.150],[8424,-17.157],[8432,-17.180],[8440,-17.175],[8450,-17.160],[8460,-17.165],[8470,-17.185],[8480,-17.190],[8488,-17.170],[8496,-17.182],[8505,-17.195],[8515,-17.200],[8522,-17.185],[8530,-17.175],[8540,-17.190],[8550,-17.195],[8558,-17.180],[8567,-17.174],[8576,-17.190],[8585,-17.200],[8595,-17.185],[8605,-17.190],[8614,-17.205],[8622,-17.215],[8630,-17.200],[8639,-17.207],[8650,-17.225],[8660,-17.230],[8670,-17.210],[8678,-17.215],[8686,-17.235],[8695,-17.240],[8703,-17.225],[8711,-17.224],[8720,-17.240],[8730,-17.250],[8740,-17.240],[8750,-17.235],[8758,-17.250],[8765,-17.255],[8773,-17.245],[8782,-17.241],[8790,-17.260],[8800,-17.270],[8810,-17.255],[8820,-17.250],[8829,-17.270],[8838,-17.280],[8846,-17.265],[8854,-17.257],[8862,-17.275],[8870,-17.290],[8880,-17.300],[8889,-17.310],[8897,-17.380],[8905,-17.450],[8915,-17.480],[8925,-17.520],[8932,-17.450],[8940,-17.380],[8950,-17.330],[8961,-17.300],[8970,-17.310],[8978,-17.320],[8987,-17.330],[8996,-17.342],[9005,-17.300],[9015,-17.260],[9022,-17.240],[9030,-17.230],[9040,-17.225],[9050,-17.216],[9060,-17.260],[9068,-17.300],[9077,-17.290],[9086,-17.309],[9093,-17.280],[9100,-17.250],[9110,-17.270],[9120,-17.290],[9130,-17.280],[9140,-17.300],[9150,-17.290],[9160,-17.280],[9168,-17.300],[9177,-17.320],[9185,-17.310],[9194,-17.309],[9202,-17.300],[9210,-17.290],[9220,-17.310],[9230,-17.330],[9238,-17.340],[9247,-17.351],[9256,-17.340],[9265,-17.330],[9274,-17.360],[9283,-17.376],[9290,-17.600],[9296,-17.950],[9301,-17.700],[9306,-17.950],[9312,-17.650],[9318,-17.800],[9325,-17.550],[9331,-17.950],[9337,-17.730],[9343,-17.500],[9350,-17.850],[9356,-17.600],[9362,-17.950],[9368,-17.620],[9375,-17.450],[9381,-17.700],[9387,-17.560],[9393,-17.400],[9399,-17.600],[9405,-17.350],[9412,-17.550],[9418,-17.300],[9425,-17.450],[9431,-17.260],[9437,-17.400],[9444,-17.241],[9450,-17.500],[9456,-17.650],[9462,-17.450],[9468,-17.700],[9474,-17.550],[9480,-17.646],[9487,-17.500],[9493,-17.600],[9500,-17.450],[9507,-17.550],[9513,-17.400],[9520,-17.520],[9527,-17.478],[9533,-17.600],[9540,-17.750],[9546,-17.950],[9552,-17.700],[9558,-17.950],[9565,-17.800],[9571,-17.600],[9578,-17.700],[9584,-17.500],[9590,-17.620],[9597,-17.450],[9603,-17.562],[9610,-17.400],[9616,-17.550],[9623,-17.350],[9630,-17.500],[9636,-17.300],[9643,-17.494],[9650,-17.350],[9656,-17.280],[9663,-17.400],[9670,-17.250],[9676,-17.350],[9683,-17.220],[9690,-17.300],[9697,-17.241],[9703,-17.350],[9710,-17.260],[9717,-17.220],[9724,-17.320],[9731,-17.224],[9738,-17.350],[9745,-17.450],[9752,-17.400],[9758,-17.500],[9766,-17.478],[9773,-17.350],[9780,-17.250],[9787,-17.300],[9794,-17.150],[9801,-17.140],[9808,-17.220],[9815,-17.100],[9822,-17.180],[9829,-17.120],[9836,-17.106],[9843,-17.200],[9850,-17.090],[9857,-17.150],[9864,-17.100],[9871,-17.070],[9878,-17.200],[9885,-17.060],[9892,-17.055],[9899,-17.300],[9906,-17.500],[9913,-17.350],[9920,-17.700],[9927,-17.550],[9934,-17.950],[9941,-17.750],[9948,-17.950],[9955,-17.800],[9962,-17.650],[9969,-17.850],[9976,-17.700],[9983,-17.500],[9990,-17.300],[9997,-17.157],[10004,-17.250],[10011,-17.050],[10018,-17.150],[10025,-17.030],[10032,-17.100],[10039,-17.022],[10046,-17.200],[10053,-17.400],[10060,-17.300],[10067,-17.600],[10074,-17.663],[10081,-17.450],[10088,-17.550],[10095,-17.300],[10102,-17.200],[10109,-17.157],[10116,-17.350],[10123,-17.500],[10130,-17.700],[10137,-17.950],[10144,-17.800],[10151,-17.950],[10158,-17.650],[10165,-17.450],[10172,-17.550],[10179,-17.310],[10186,-17.400],[10193,-17.250],[10200,-17.350],[10207,-17.220],[10214,-17.300],[10221,-17.150],[10228,-17.100],[10235,-17.200],[10242,-17.050],[10249,-17.013],[10256,-17.200],[10263,-17.400],[10270,-17.700],[10277,-17.950],[10284,-17.850],[10291,-17.600],[10298,-17.400],[10305,-17.055],[10312,-17.300],[10319,-17.600],[10326,-17.800],[10333,-17.950],[10340,-17.700],[10347,-17.400],[10354,-17.100],[10358,-17.005],[10365,-17.300],[10372,-17.550],[10379,-17.800],[10386,-17.950],[10393,-17.750],[10400,-17.550],[10407,-17.600],[10414,-17.450],[10421,-17.500],[10428,-17.310],[10435,-17.400],[10442,-17.250],[10449,-17.350],[10456,-17.180],[10463,-17.280],[10470,-17.100],[10477,-16.950],[10483,-16.756],[10490,-17.300],[10495,-17.700],[10500,-17.950]];

const sn1998bw = [[3944,-17.900],[3946,-17.730],[3948,-17.600],[3965,-17.520],[3983,-17.478],[4019,-17.444],[4073,-17.418],[4126,-17.393],[4180,-17.376],[4216,-17.342],[4252,-17.334],[4306,-17.308],[4359,-17.304],[4395,-17.292],[4430,-17.308],[4484,-17.266],[4520,-17.233],[4556,-17.207],[4592,-17.174],[4663,-17.174],[4771,-17.178],[4843,-17.165],[4950,-17.161],[5021,-17.152],[5129,-17.140],[5165,-17.123],[5201,-17.199],[5219,-17.106],[5273,-17.089],[5344,-17.093],[5434,-17.106],[5452,-17.136],[5559,-17.144],[5666,-17.136],[5810,-17.102],[5881,-17.089],[5917,-17.072],[6025,-17.038],[6096,-17.009],[6203,-16.962],[6310,-16.937],[6375,-16.924],[6454,-16.954],[6508,-16.984],[6562,-17.005],[6705,-17.005],[6812,-16.996],[6866,-17.013],[6991,-17.051],[7081,-17.076],[7206,-17.098],[7314,-17.106],[7349,-17.098],[7510,-17.043],[7582,-17.034],[7671,-17.043],[7725,-17.051],[7851,-17.089],[7940,-17.123],[8012,-17.157],[8029,-17.207],[8083,-17.165],[8209,-17.174],[8370,-17.207],[8406,-17.250],[8496,-17.275],[8585,-17.308],[8657,-17.368],[8729,-17.418],[8854,-17.448],[8889,-17.503],[8915,-17.550],[8930,-17.620],[8940,-17.720],[8960,-17.500],[8996,-17.469],[9104,-17.478],[9247,-17.444],[9372,-17.431],[9493,-17.461],[9570,-17.494],[9641,-17.452],[9713,-17.418],[9784,-17.376],[9856,-17.326],[9928,-17.283],[9999,-17.266],[10053,-17.258],[10107,-17.262],[10178,-17.283],[10285,-17.308],[10339,-17.351],[10393,-17.376],[10483,-17.427]];

const spectra = [april03, april08, april10, april17, april22, may01];
const lineWidths = [4.5, 4.5, 2.5, 2.5, 3, 2.5];

const chart = echarts.init(document.getElementById('chart'), null, { renderer: 'canvas' });

const black = '#000000';
const tickStyle = { color: black, width: 2 };

function xAxisDef(position, ticks, len, withLine, withLabels) {
  return {
    type: 'value', position: position, min: xRange[0], max: xRange[1],
    splitLine: { show: false },
    axisLine: { show: withLine, onZero: false, lineStyle: { color: black, width: 2 } },
    axisTick: { show: true, inside: true, length: len, customValues: ticks, lineStyle: tickStyle },
    axisLabel: withLabels ? {
      show: true, customValues: ticks, margin: 33,
      fontFamily: FONT, fontSize: 26, fontWeight: 'bold', color: black,
      formatter: v => Number(v).toLocaleString('en-US')
    } : { show: false }
  };
}
function yAxisDef(position, ticks, len, withLine, withLabels) {
  return {
    type: 'value', position: position, min: yRange[0], max: yRange[1],
    splitLine: { show: false },
    axisLine: { show: withLine, onZero: false, lineStyle: { color: black, width: 2 } },
    axisTick: { show: true, inside: true, length: len, customValues: ticks, lineStyle: tickStyle },
    axisLabel: withLabels ? {
      show: true, customValues: ticks, margin: 13,
      fontFamily: FONT, fontSize: 26, fontWeight: 'bold', color: black,
      formatter: v => (v < 0 ? '\u2212' : '') + Math.abs(v).toFixed(1)
    } : { show: false }
  };
}

// drawn bottom-up so the earliest epochs sit on top, the template last
const order = [5, 4, 3, 2, 1, 0];
const series = order.map(i => ({
  name: seriesNames[i], type: 'line', data: spectra[i],
  xAxisIndex: 0, yAxisIndex: 0,
  showSymbol: false, symbol: 'none', clip: true, animation: false,
  color: seriesColors[i],
  lineStyle: { color: seriesColors[i], width: lineWidths[i], join: 'round' }
}));
series.push({
  name: templateName, type: 'line', data: sn1998bw,
  xAxisIndex: 0, yAxisIndex: 0,
  showSymbol: false, symbol: 'none', clip: true, animation: false,
  color: '#0c0c48',
  lineStyle: { color: '#0c0c48', width: 2.5, type: [14, 10], join: 'round' }
});

const main = { fontFamily: FONT, fontSize: 28, fontWeight: 'bold', color: black };
const sup = { fontFamily: FONT, fontSize: 17, fontWeight: 'bold', color: black, padding: [0, 0, 16, 0] };
const sub = { fontFamily: FONT, fontSize: 17, fontWeight: 'bold', color: black, padding: [14, 0, 0, 0] };

chart.setOption({
  animation: false,
  backgroundColor: '#ffffff',
  grid: { left: 141.5, right: -2.5, top: 6.5, bottom: 94, containLabel: false, outerBoundsMode: 'none' },
  xAxis: [
    xAxisDef('bottom', xMajorTicks, 20, true, true),
    xAxisDef('bottom', xMinorTicks, 10, false, false),
    xAxisDef('top', xMajorTicks, 20, true, false),
    xAxisDef('top', xMinorTicks, 10, false, false)
  ],
  yAxis: [
    yAxisDef('left', yMajorTicks, 14, true, true),
    yAxisDef('left', yMinorTicks, 7, false, false),
    yAxisDef('right', yMajorTicks, 14, true, false),
    yAxisDef('right', yMinorTicks, 7, false, false)
  ],
  legend: {
    show: true, orient: 'vertical', left: 636, top: 94,
    itemWidth: 19, itemHeight: 3, itemGap: 13.5, icon: 'rect',
    padding: 0,
    textStyle: { fontFamily: FONT, fontSize: 26, fontWeight: 'bold', lineHeight: 26, padding: [0, 0, 0, 3] },
    data: seriesNames.map((n, i) => ({ name: n, textStyle: { color: seriesColors[i] } }))
  },
  graphic: [
    { type: 'text', left: 177, top: 56, silent: true,
      style: { text: 'Hjorth+(03)', fontFamily: FONT, fontSize: 53, fill: black } },
    { type: 'text', left: 508, top: 38, silent: true,
      style: { text: 'GRB030329/SN2003dh', fontFamily: FONT, fontSize: 27, fontWeight: 'bold', fill: black } },
    { type: 'text', left: 236, top: 813, silent: true,
      style: { text: 'Type Ic', fontFamily: FONT, fontSize: 87, fill: '#12c896' } },
    { type: 'text', left: 212, top: 929, silent: true,
      style: { text: templateName, fontFamily: FONT, fontSize: 27, fontWeight: 'bold', fill: '#0c0c48' } },
    { type: 'text', x: 463, y: 1073, silent: true,
      style: { text: 'Observed wavelength (\u00c5)', fontFamily: FONT, fontSize: 25, fontWeight: 'bold',
               fill: black, align: 'center', verticalAlign: 'middle' } },
    { type: 'text', x: 30, y: 527, rotation: Math.PI / 2, silent: true,
      style: {
        text: '{m|log (}{i|f}{s|\u03bb}{m|) (erg s}{p|\u22121}{m| cm}{p|\u22122}{m| \u00c5}{p|\u22121}{m|)}',
        align: 'center', verticalAlign: 'middle',
        rich: { m: main, i: Object.assign({}, main, { fontStyle: 'italic' }), s: sub, p: sup }
      } }
  ],
  series: series
});
</script>
</body>
</html>
